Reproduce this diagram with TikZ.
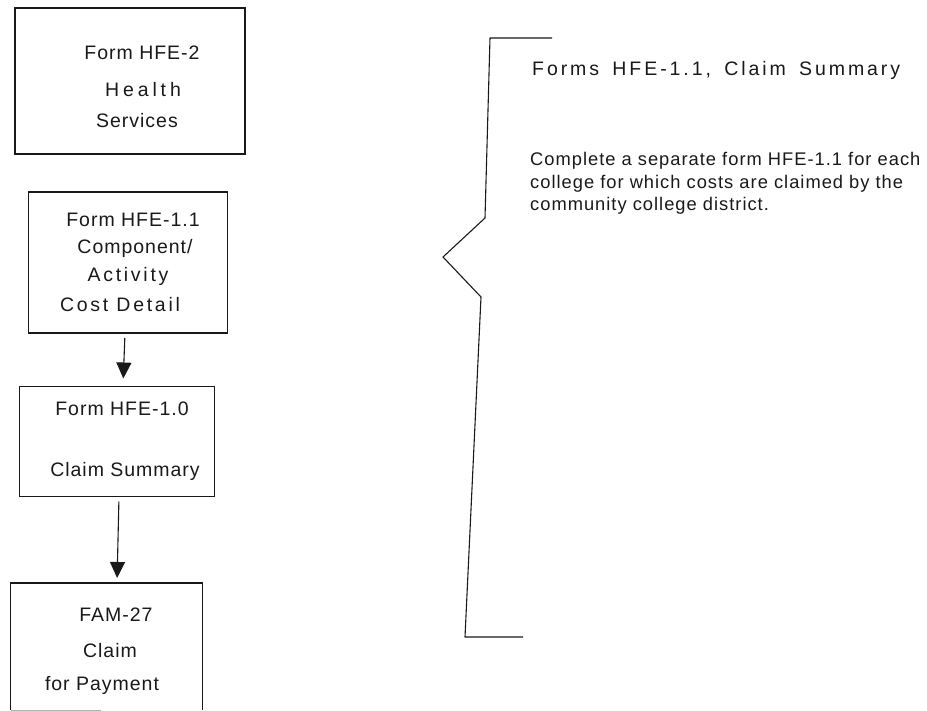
\documentclass[tikz,border=0pt]{standalone}
\usepackage{fontspec}
\setmainfont{Liberation Sans}
\usetikzlibrary{arrows.meta}
\newfontfamily\boxfont[LetterSpace=5]{Liberation Sans}
\newfontfamily\widefont[LetterSpace=14]{Liberation Sans}
\newfontfamily\widerfont[LetterSpace=20]{Liberation Sans}
\newfontfamily\descfont[LetterSpace=5.5]{Liberation Sans}
\newfontfamily\titlefont[LetterSpace=15,WordSpace=1.6]{Liberation Sans}
\begin{document}
\begin{tikzpicture}[x=1pt,y=-1pt,
  box/.style={draw=black!90,line width=1.1pt,inner sep=0pt,outer sep=0pt,rectangle},
  lbl/.style={inner sep=0pt,anchor=base,font=\fontsize{19.5}{22}\boxfont,text=black!90},
  arr/.style={draw=black!90,line width=1.1pt,-{Triangle[width=15pt,length=16pt]}},
  brk/.style={draw=black!90,line width=1.1pt,line join=round}]
\useasboundingbox (0,0) rectangle (927,711);
\clip (0,0) rectangle (927,711);
% boxes
\node[box,minimum width=230pt,minimum height=146pt] (b1) at (130,81) {};
\node[box,minimum width=199pt,minimum height=141pt] (b2) at (128,262.5) {};
\node[box,minimum width=195pt,minimum height=110pt] (b3) at (117,441.5) {};
\node[inner sep=0pt,outer sep=0pt,minimum width=192pt,minimum height=127pt] (b4) at (106.5,646.5) {};
\draw[box] (b4.south west) -- (b4.north west) -- (b4.north east) -- (b4.south east);
\draw[black!30,line width=1pt] (b4.south west) -- ([xshift=90pt]b4.south west);
% box texts
\node[lbl] (t1a) at (142,60) {Form HFE-2};
\node[lbl,font=\fontsize{19.5}{22}\widerfont] (t1b) at (143,97) {Health};
\node[lbl] (t1c) at (137,128) {Services};
\node[lbl] (t2a) at (133,227) {Form HFE-1.1};
\node[lbl] (t2b) at (135,254) {Component/};
\node[lbl,font=\fontsize{19.5}{22}\widefont] (t2c) at (128,282) {Activity};
\node[lbl,font=\fontsize{19.5}{22}\widefont] (t2d) at (120,312) {Cost Detail};
\node[lbl] (t3a) at (122,416) {Form HFE-1.0};
\node[lbl] (t3b) at (125,476) {Claim Summary};
\node[lbl] (t4a) at (116,621) {FAM-27};
\node[lbl] (t4b) at (110,657) {Claim};
\node[lbl] (t4c) at (102,690) {for Payment};
% arrows
\draw[arr,shorten <=5pt,shorten >=8pt] ([xshift=-3pt]b2.south) -- ([xshift=6pt]b3.north);
\draw[arr,shorten <=5pt,shorten >=5pt] ([xshift=2pt]b3.south) -- ([xshift=10.5pt]b4.north);
% bracket
\coordinate (k1) at (552,38);
\coordinate (k2) at (490,38);
\coordinate (k3) at (485,218);
\coordinate (k4) at (443,257);
\coordinate (k5) at (481,297);
\coordinate (k6) at (465,637);
\coordinate (k7) at (523,637);
\draw[brk] (k1) -- (k2) -- (k3) -- (k4) -- (k5) -- (k6) -- (k7);
% right texts
\node[inner sep=0pt,anchor=base west,font=\fontsize{19.5}{22}\titlefont,text=black!90] (title) at (532,76) {Forms HFE-1.1, Claim Summary};
\node[inner sep=0pt,anchor=base west,align=left,font=\fontsize{18.3}{22.5}\descfont,text=black!90] (desc) at (530,211)
  {Complete a separate form HFE-1.1 for each\\college for which costs are claimed by the\\community college district.};
\end{tikzpicture}
\end{document}
